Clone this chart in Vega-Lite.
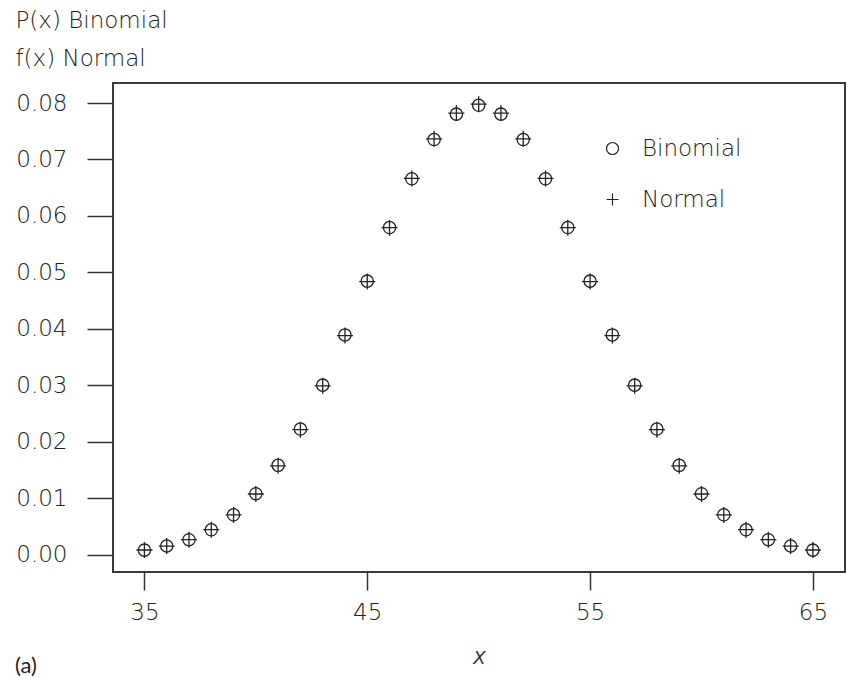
{
  "$schema": "https://vega.github.io/schema/vega-lite/v6.json",
  "width": 732,
  "height": 489,
  "autosize": {"type": "none"},
  "padding": {"left": 113, "top": 83, "right": 1, "bottom": 106},
  "background": "white",
  "title": {
    "text": "(a)",
    "orient": "bottom",
    "anchor": "start",
    "frame": "group",
    "font": "Lato",
    "fontSize": 22,
    "fontWeight": "normal",
    "color": "#222",
    "dx": -98,
    "dy": -13,
    "offset": 2
  },
  "data": {
    "values": [
      {"x": 35, "dist": "Binomial", "p": 0.000864},
      {"x": 36, "dist": "Binomial", "p": 0.001592},
      {"x": 37, "dist": "Binomial", "p": 0.002710},
      {"x": 38, "dist": "Binomial", "p": 0.004467},
      {"x": 39, "dist": "Binomial", "p": 0.007111},
      {"x": 40, "dist": "Binomial", "p": 0.010844},
      {"x": 41, "dist": "Binomial", "p": 0.015869},
      {"x": 42, "dist": "Binomial", "p": 0.022292},
      {"x": 43, "dist": "Binomial", "p": 0.030069},
      {"x": 44, "dist": "Binomial", "p": 0.038953},
      {"x": 45, "dist": "Binomial", "p": 0.048474},
      {"x": 46, "dist": "Binomial", "p": 0.057958},
      {"x": 47, "dist": "Binomial", "p": 0.066590},
      {"x": 48, "dist": "Binomial", "p": 0.073527},
      {"x": 49, "dist": "Binomial", "p": 0.078029},
      {"x": 50, "dist": "Binomial", "p": 0.079589},
      {"x": 51, "dist": "Binomial", "p": 0.078029},
      {"x": 52, "dist": "Binomial", "p": 0.073527},
      {"x": 53, "dist": "Binomial", "p": 0.066590},
      {"x": 54, "dist": "Binomial", "p": 0.057958},
      {"x": 55, "dist": "Binomial", "p": 0.048474},
      {"x": 56, "dist": "Binomial", "p": 0.038953},
      {"x": 57, "dist": "Binomial", "p": 0.030069},
      {"x": 58, "dist": "Binomial", "p": 0.022292},
      {"x": 59, "dist": "Binomial", "p": 0.015869},
      {"x": 60, "dist": "Binomial", "p": 0.010844},
      {"x": 61, "dist": "Binomial", "p": 0.007111},
      {"x": 62, "dist": "Binomial", "p": 0.004467},
      {"x": 63, "dist": "Binomial", "p": 0.002710},
      {"x": 64, "dist": "Binomial", "p": 0.001592},
      {"x": 65, "dist": "Binomial", "p": 0.000864},
      {"x": 35, "dist": "Normal", "p": 0.000886},
      {"x": 36, "dist": "Normal", "p": 0.001583},
      {"x": 37, "dist": "Normal", "p": 0.002717},
      {"x": 38, "dist": "Normal", "p": 0.004479},
      {"x": 39, "dist": "Normal", "p": 0.007095},
      {"x": 40, "dist": "Normal", "p": 0.010798},
      {"x": 41, "dist": "Normal", "p": 0.015790},
      {"x": 42, "dist": "Normal", "p": 0.022184},
      {"x": 43, "dist": "Normal", "p": 0.029945},
      {"x": 44, "dist": "Normal", "p": 0.038837},
      {"x": 45, "dist": "Normal", "p": 0.048394},
      {"x": 46, "dist": "Normal", "p": 0.057938},
      {"x": 47, "dist": "Normal", "p": 0.066645},
      {"x": 48, "dist": "Normal", "p": 0.073654},
      {"x": 49, "dist": "Normal", "p": 0.078209},
      {"x": 50, "dist": "Normal", "p": 0.079788},
      {"x": 51, "dist": "Normal", "p": 0.078209},
      {"x": 52, "dist": "Normal", "p": 0.073654},
      {"x": 53, "dist": "Normal", "p": 0.066645},
      {"x": 54, "dist": "Normal", "p": 0.057938},
      {"x": 55, "dist": "Normal", "p": 0.048394},
      {"x": 56, "dist": "Normal", "p": 0.038837},
      {"x": 57, "dist": "Normal", "p": 0.029945},
      {"x": 58, "dist": "Normal", "p": 0.022184},
      {"x": 59, "dist": "Normal", "p": 0.015790},
      {"x": 60, "dist": "Normal", "p": 0.010798},
      {"x": 61, "dist": "Normal", "p": 0.007095},
      {"x": 62, "dist": "Normal", "p": 0.004479},
      {"x": 63, "dist": "Normal", "p": 0.002717},
      {"x": 64, "dist": "Normal", "p": 0.001583},
      {"x": 65, "dist": "Normal", "p": 0.000886}
    ]
  },
  "encoding": {
    "x": {
      "field": "x",
      "type": "quantitative",
      "scale": {"domain": [33.59, 66.44], "nice": false, "zero": false},
      "axis": {
        "values": [35, 45, 55, 65],
        "tickSize": 18,
        "labelPadding": 11,
        "title": "X",
        "titleFont": "DejaVu Sans",
        "titleFontSize": 18,
        "titleFontStyle": "italic",
        "titleFontWeight": 300,
        "titleColor": "#333",
        "titleBaseline": "alphabetic",
        "titleY": 91
      }
    },
    "y": {
      "field": "p",
      "type": "quantitative",
      "scale": {"domain": [-0.00301, 0.08354], "nice": false, "zero": false},
      "axis": {
        "values": [0, 0.01, 0.02, 0.03, 0.04, 0.05, 0.06, 0.07, 0.08],
        "format": ".2f",
        "tickSize": 26,
        "labelPadding": 20,
        "title": ["P(x) Binomial", "f(x) Normal"],
        "titleFont": "DejaVu Sans",
        "titleFontSize": 23,
        "titleFontWeight": 300,
        "titleColor": "#222",
        "titleAngle": 0,
        "titleAlign": "left",
        "titleBaseline": "alphabetic",
        "titleLineHeight": 38,
        "titleX": -98,
        "titleY": -56
      }
    },
    "shape": {
      "field": "dist",
      "type": "nominal",
      "scale": {"domain": ["Binomial", "Normal"], "range": ["circle", "M-1,0L1,0M0,-1L0,1"]},
      "legend": {
        "orient": "none",
        "legendX": 488,
        "legendY": 54,
        "title": null,
        "padding": 0,
        "labelFont": "DejaVu Sans",
        "labelFontSize": 23,
        "labelFontWeight": 300,
        "labelColor": "#222",
        "labelOffset": 18,
        "rowPadding": 27,
        "symbolSize": 144,
        "symbolStrokeColor": "#222",
        "symbolFillColor": "transparent",
        "symbolStrokeWidth": 1.2
      }
    }
  },
  "layer": [
    {
      "transform": [{"filter": "datum.dist === 'Binomial'"}],
      "mark": {"type": "point", "filled": false, "stroke": "#222", "strokeWidth": 1.3, "opacity": 1, "size": 150}
    },
    {
      "transform": [{"filter": "datum.dist === 'Normal'"}],
      "mark": {"type": "point", "filled": false, "stroke": "#222", "strokeWidth": 1.3, "opacity": 1, "size": 256}
    }
  ],
  "config": {
    "view": {"stroke": "#3a3a3a", "strokeWidth": 2},
    "axis": {
      "domain": false,
      "grid": false,
      "labelFont": "DejaVu Sans",
      "labelFontSize": 23,
      "labelFontWeight": 300,
      "labelColor": "#222",
      "tickColor": "#333",
      "tickWidth": 1.5
    }
  }
}
